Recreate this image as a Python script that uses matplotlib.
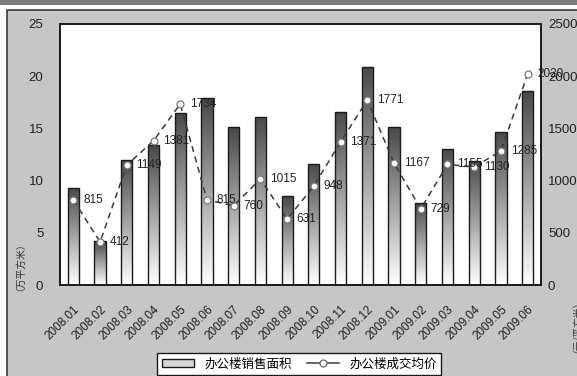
import numpy as np
import matplotlib
matplotlib.use("Agg")
import matplotlib.pyplot as plt
from matplotlib.patches import Rectangle, Patch
from matplotlib.lines import Line2D

plt.rcParams['font.family'] = ['Liberation Sans', 'Noto Sans CJK SC', 'DejaVu Sans']

months = ["2008.01", "2008.02", "2008.03", "2008.04", "2008.05", "2008.06",
          "2008.07", "2008.08", "2008.09", "2008.10", "2008.11", "2008.12",
          "2009.01", "2009.02", "2009.03", "2009.04", "2009.05", "2009.06"]
area = [9.3, 4.2, 12.0, 13.4, 16.5, 17.9, 15.1, 16.1, 8.5, 11.6, 16.6, 20.9,
        15.1, 7.9, 13.0, 11.9, 14.7, 18.6]
price = [815, 412, 1149, 1381, 1734, 815, 760, 1015, 631, 948, 1371, 1771,
         1167, 729, 1155, 1130, 1285, 2020]
bar_name = "办公楼销售面积"
line_name = "办公楼成交均价"
left_ticks = [0, 5, 10, 15, 20, 25]
right_ticks = [0, 500, 1000, 1500, 2000, 2500]

W, H = 577, 376
fig = plt.figure(figsize=(W / 100, H / 100), dpi=100)
fig.patch.set_facecolor("white")

# outer panel decoration
fig.patches.append(Rectangle((0, 1 - 5 / H), 1, 5 / H, transform=fig.transFigure,
                             facecolor="#7c7c7c", edgecolor="none", zorder=-10))
fig.patches.append(Rectangle((7 / W, -0.05), 1.2, 1 - 10 / H + 0.05,
                             transform=fig.transFigure, facecolor="#c6c6c6",
                             edgecolor="#3a3a3a", linewidth=1.2, zorder=-10))

ax = fig.add_axes([60 / W, 1 - 285 / H, (541 - 60) / W, (285 - 24) / H])
ax.set_facecolor("white")
x = np.arange(len(months))

bars = ax.bar(x, area, width=0.42, facecolor="none", edgecolor="#1a1a1a",
              linewidth=1.0, zorder=3)
grad = np.linspace(0, 1, 256).reshape(-1, 1)
for b in bars:
    x0, y0 = b.get_x(), b.get_y()
    w, h = b.get_width(), b.get_height()
    im = ax.imshow(grad, cmap="gray", vmin=-0.4, vmax=1.0, aspect="auto",
                   extent=(x0, x0 + w, y0, y0 + h), origin="upper",
                   interpolation="bilinear", zorder=2)
    im.set_clip_path(b)

ax.set_xlim(-0.5, len(months) - 0.5)
ax.set_ylim(0, 25)
ax.set_yticks(left_ticks)
ax.set_xticks(x)
ax.set_xticklabels(months, rotation=45, ha="right", rotation_mode="anchor",
                   fontsize=8.5, color="#222222")
ax.tick_params(axis="x", length=0, pad=13)
ax.tick_params(axis="y", length=0, pad=12, labelsize=9.5, labelcolor="#222222")
for s in ax.spines.values():
    s.set_color("#1a1a1a")
    s.set_linewidth(1.2)

ax2 = ax.twinx()
ax2.set_ylim(0, 2500)
ax2.set_yticks(right_ticks)
ax2.tick_params(axis="y", length=0, pad=5, labelsize=9.5, labelcolor="#222222")
ax2.plot(x, price, linestyle=(0, (4, 3)), color="#3a3a3a", linewidth=1.1,
         marker="o", markersize=5, markerfacecolor="white",
         markeredgecolor="#777777", markeredgewidth=0.9, zorder=4)
for xi, v in zip(x, price):
    ax2.annotate(str(v), (xi, v), xytext=(7, 0), textcoords="offset points",
                 ha="left", va="center", fontsize=8.5, color="#222222", zorder=5)
for s in ax2.spines.values():
    s.set_color("#1a1a1a")
    s.set_linewidth(1.2)

fig.text(15 / W, 1 - 262 / H, "（万平方米）", rotation=90, ha="center", va="center",
         fontsize=7, color="#333333", family=['Noto Sans CJK SC', 'DejaVu Sans'])
fig.text(573 / W, 1 - 322 / H, "（元/平方米）", rotation=90, ha="center", va="center",
         fontsize=7, color="#333333", family=['Noto Sans CJK SC', 'DejaVu Sans'])

handles = [Patch(facecolor="#d8d8d8", edgecolor="#1a1a1a", linewidth=1.0),
           Line2D([0], [0], linestyle="-", color="#3a3a3a", linewidth=1.1,
                  marker="o", markersize=5, markerfacecolor="white",
                  markeredgecolor="#777777")]
leg = fig.legend(handles, [bar_name, line_name], ncol=2, loc="upper left",
                 bbox_to_anchor=(151 / W, 1 - 347 / H), frameon=True,
                 fancybox=False, edgecolor="#1a1a1a", facecolor="white",
                 prop={"family": ['Noto Sans CJK SC', 'DejaVu Sans'], "size": 9},
                 handlelength=2.6, handleheight=0.6, columnspacing=1.2,
                 borderpad=0.35)
leg.get_frame().set_linewidth(1.0)
leg.get_frame().set_alpha(1)

fig.savefig("out.png", dpi=100)
